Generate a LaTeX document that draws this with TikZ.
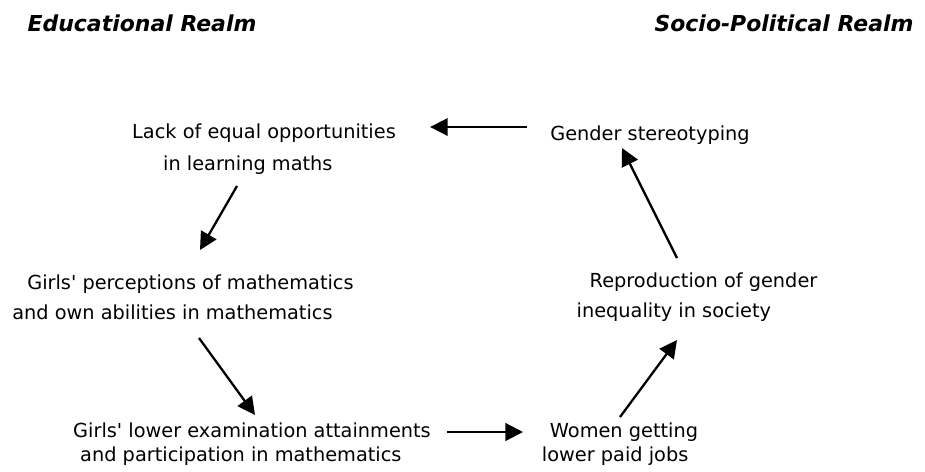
\documentclass[tikz,border=0pt]{standalone}
\usepackage{fontspec}
\setmainfont{DejaVu Sans}[Ligatures=TeXOff]
\usepackage{tikz}
\usetikzlibrary{arrows.meta, positioning}

\begin{document}
\begin{tikzpicture}[
    x=0.02cm, y=-0.02cm,
    concept/.style={inner sep=0pt, align=left, font=\fontsize{11}{17}\selectfont},
    realm label/.style={inner sep=0pt, font=\fontsize{12.5}{15}\selectfont\bfseries\itshape},
    flow/.style={-{Triangle[length=10pt, width=10pt]}, line width=1.3pt, black}
]
    \useasboundingbox (0,0) rectangle (925,471);

    % Realm headings
    \node[realm label] (edu) at (142, 23) {Educational Realm};
    \node[realm label] (soc) at (784, 23) {Socio-Political Realm};

    % Educational realm (left)
    \node[concept] (lack) at (264, 149) {Lack of equal opportunities\\[1pt]\hspace*{0.62cm}in learning maths};
    \node[concept] (perc) at (183, 297) {\hspace*{0.3cm}Girls' perceptions of mathematics\\and own abilities in mathematics};
    \node[concept] (lower) at (252, 444) {Girls' lower examination attainments\\[-3pt]\hspace*{0.14cm}and participation in mathematics};

    % Socio-political realm (right)
    \node[concept] (women) at (620, 444) {\hspace*{0.16cm}Women getting\\[-3pt]lower paid jobs};
    \node[concept] (repro) at (697, 297) {\hspace*{0.26cm}Reproduction of gender\\inequality in society};
    \node[concept] (gender) at (650, 135) {Gender stereotyping};

    % Cycle
    \draw[flow, line width=1pt] ([shift={(-23,-8)}]gender.west) -- ([shift={(34,-22)}]lack.east);
    \draw[flow] ([shift={(-27,37)}]lack.center) -- ([shift={(17,-47)}]perc.center);
    \draw[flow] ([shift={(16,41)}]perc.center) -- ([shift={(3,-29)}]lower.center);
    \draw[flow] ([shift={(195,-12)}]lower.center) -- ([shift={(-97,-12)}]women.center);
    \draw[flow] ([shift={(0,-27)}]women.center) -- ([shift={(-20,43)}]repro.center);
    \draw[flow] ([shift={(-20,-39)}]repro.center) -- ([shift={(-28,13)}]gender.center);
\end{tikzpicture}
\end{document}
